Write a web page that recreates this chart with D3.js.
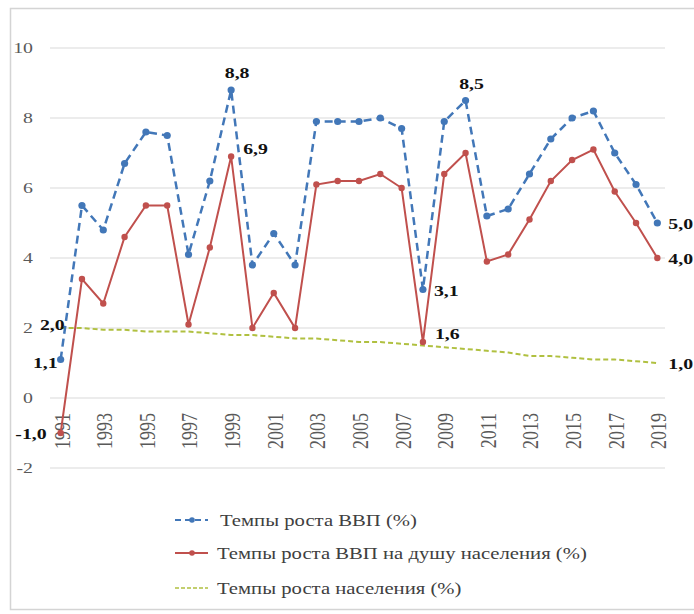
<!DOCTYPE html>
<html>
<head>
<meta charset="utf-8">
<script src="https://cdn.jsdelivr.net/npm/d3@7"></script>
<style>
  body { margin: 0; background: #fff; }
  svg text { font-family: "Liberation Serif", "Times New Roman", serif; }
  .grid line { stroke: #e6e6e6; stroke-width: 1.5; }
  .tick-label { fill: #595959; }
  .data-label { fill: #111; font-weight: bold; }
  .legend text { fill: #404040; }
</style>
</head>
<body>
<div id="chart"></div>
<script>
const WIDTH = 694;
const HEIGHT = 614;
// the source picture is stretched sideways, so text gets the same stretch
const STRETCH = 1.32;

const years = d3.range(1991, 2020).map(String);
const gdpGrowth = [1.1, 5.5, 4.8, 6.7, 7.6, 7.5, 4.1, 6.2, 8.8, 3.8, 4.7, 3.8, 7.9, 7.9, 7.9, 8.0, 7.7,
  3.1, 7.9, 8.5, 5.2, 5.4, 6.4, 7.4, 8.0, 8.2, 7.0, 6.1, 5.0];
const gdpPerCapita = [-1.0, 3.4, 2.7, 4.6, 5.5, 5.5, 2.1, 4.3, 6.9, 2.0, 3.0, 2.0, 6.1, 6.2, 6.2, 6.4, 6.0,
  1.6, 6.4, 7.0, 3.9, 4.1, 5.1, 6.2, 6.8, 7.1, 5.9, 5.0, 4.0];
const popGrowth = [2.0, 2.0, 1.95, 1.95, 1.9, 1.9, 1.9, 1.85, 1.8, 1.8, 1.75, 1.7, 1.7, 1.65, 1.6, 1.6, 1.55,
  1.5, 1.45, 1.4, 1.35, 1.3, 1.2, 1.2, 1.15, 1.1, 1.1, 1.05, 1.0];
const yTicks = [-2, 0, 2, 4, 6, 8, 10];
const legendLabels = [
  'Темпы роста ВВП (%)',
  'Темпы роста ВВП на душу населения (%)',
  'Темпы роста населения (%)'
];

// labels shown on the chart: [series, year, text, placement]
const pointLabels = [
  ['gdp', '1991', '1,1', 'left'],
  ['gdp', '1999', '8,8', 'top'],
  ['gdp', '2008', '3,1', 'right'],
  ['gdp', '2010', '8,5', 'top'],
  ['gdp', '2019', '5,0', 'right'],
  ['pc', '1991', '-1,0', 'leftFar'],
  ['pc', '1999', '6,9', 'upright'],
  ['pc', '2008', '1,6', 'upright'],
  ['pc', '2019', '4,0', 'right'],
  ['pop', '1991', '2,0', 'over'],
  ['pop', '2019', '1,0', 'right']
];

const colors = { gdp: '#4277b8', pc: '#c0504d', pop: '#b0c040' };
const seriesData = { gdp: gdpGrowth, pc: gdpPerCapita, pop: popGrowth };

const xScale = d3.scalePoint()
  .domain(years)
  .range([50, 668])
  .padding(0.5);

const yScale = d3.scaleLinear()
  .domain([-2, 10])
  .range([468, 48]);

const svg = d3.select('#chart')
  .append('svg')
  .attr('width', WIDTH)
  .attr('height', HEIGHT)
  .style('display', 'block');

svg.append('rect')
  .attr('x', 10.5)
  .attr('y', 8.5)
  .attr('width', 720)
  .attr('height', 601)
  .attr('fill', '#fff')
  .attr('stroke', '#d4d4d4')
  .attr('stroke-width', 1.5);

svg.append('g')
  .attr('class', 'grid')
  .selectAll('line')
  .data(yTicks)
  .enter()
  .append('line')
  .attr('x1', 50)
  .attr('x2', 665)
  .attr('y1', d => yScale(d))
  .attr('y2', d => yScale(d));

svg.append('g')
  .selectAll('text')
  .data(yTicks)
  .enter()
  .append('text')
  .attr('class', 'tick-label')
  .attr('font-size', 15)
  .attr('transform', d => `translate(33, ${yScale(d)}) scale(${STRETCH}, 1)`)
  .attr('dy', '0.35em')
  .attr('text-anchor', 'end')
  .text(d => d);

svg.append('g')
  .selectAll('text')
  .data(years.filter((d, i) => i % 2 === 0))
  .enter()
  .append('text')
  .attr('class', 'tick-label')
  .attr('font-size', 18)
  .attr('text-anchor', 'end')
  .attr('dy', '0.35em')
  .attr('transform', d => `translate(${xScale(d) + 1}, 413) scale(${STRETCH * 0.95}, 1) rotate(-90)`)
  .text(d => d);

const line = values => d3.line()
  .x((d, i) => xScale(years[i]))
  .y(d => yScale(d))(values);

// population first so the other two sit on top
svg.append('path')
  .attr('d', line(popGrowth))
  .attr('fill', 'none')
  .attr('stroke', colors.pop)
  .attr('stroke-width', 2)
  .attr('stroke-dasharray', '5,3');

svg.append('path')
  .attr('d', line(gdpPerCapita))
  .attr('fill', 'none')
  .attr('stroke', colors.pc)
  .attr('stroke-width', 2);

svg.append('g')
  .selectAll('circle')
  .data(gdpPerCapita)
  .enter()
  .append('circle')
  .attr('cx', (d, i) => xScale(years[i]))
  .attr('cy', d => yScale(d))
  .attr('r', 3.2)
  .attr('fill', colors.pc);

svg.append('path')
  .attr('d', line(gdpGrowth))
  .attr('fill', 'none')
  .attr('stroke', colors.gdp)
  .attr('stroke-width', 2.5)
  .attr('stroke-dasharray', '8,5');

svg.append('g')
  .selectAll('circle')
  .data(gdpGrowth)
  .enter()
  .append('circle')
  .attr('cx', (d, i) => xScale(years[i]))
  .attr('cy', d => yScale(d))
  .attr('r', 3.6)
  .attr('fill', colors.gdp);

const labelPos = (d) => {
  const v = seriesData[d[0]][years.indexOf(d[1])];
  const x = xScale(d[1]);
  const y = yScale(v);
  switch (d[3]) {
    case 'top': return { x: x + 6, y: y - 12, anchor: 'middle' };
    case 'left': return { x: x - 3, y: y + 8, anchor: 'end' };
    case 'leftFar': return { x: x - 14, y: y + 6, anchor: 'end' };
    case 'over': return { x: x + 4, y: y + 2, anchor: 'end' };
    case 'upright': return { x: x + 12, y: y - 3, anchor: 'start' };
    default: return { x: x + 11, y: y + 6, anchor: 'start' };
  }
};

svg.append('g')
  .selectAll('text')
  .data(pointLabels)
  .enter()
  .append('text')
  .attr('class', 'data-label')
  .attr('font-size', 15)
  .attr('text-anchor', d => labelPos(d).anchor)
  .attr('transform', d => `translate(${labelPos(d).x}, ${labelPos(d).y}) scale(${STRETCH}, 1)`)
  .text(d => d[2]);

const legendKeys = ['gdp', 'pc', 'pop'];
const legend = svg.append('g')
  .attr('class', 'legend')
  .selectAll('g')
  .data(legendKeys)
  .enter()
  .append('g')
  .attr('transform', (d, i) => `translate(175, ${[520, 553, 588][i]})`);

legend.append('line')
  .attr('x1', 0)
  .attr('x2', 33)
  .attr('stroke', d => colors[d])
  .attr('stroke-width', d => d === 'pop' ? 1.5 : 2)
  .attr('stroke-dasharray', d => d === 'gdp' ? '6,4' : d === 'pop' ? '4,2' : null);

legend.filter(d => d !== 'pop')
  .append('circle')
  .attr('cx', 17)
  .attr('r', 2.8)
  .attr('fill', d => colors[d]);

legend.append('text')
  .attr('font-size', 16)
  .attr('dy', '0.35em')
  .attr('transform', d => `translate(${d === 'gdp' ? 45 : 42}, 0) scale(${STRETCH * 0.98}, 1)`)
  .text((d, i) => legendLabels[i]);
</script>
</body>
</html>
